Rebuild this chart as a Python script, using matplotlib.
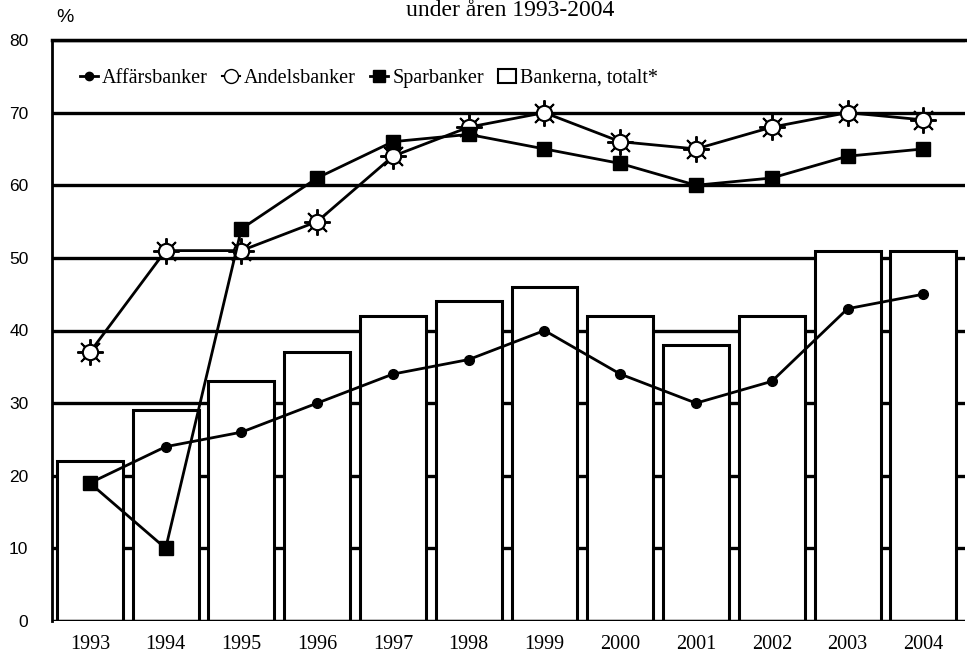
import matplotlib
matplotlib.use("Agg")
import matplotlib.pyplot as plt
from matplotlib.lines import Line2D
from matplotlib.patches import Patch
import numpy as np

years = ["1993", "1994", "1995", "1996", "1997", "1998", "1999", "2000", "2001", "2002", "2003", "2004"]
totalt = [22, 29, 33, 37, 42, 44, 46, 42, 38, 42, 51, 51]
affars = [19, 24, 26, 30, 34, 36, 40, 34, 30, 33, 43, 45]
andels = [37, 51, 51, 55, 64, 68, 70, 66, 65, 68, 70, 69]
spar = [19, 10, 54, 61, 66, 67, 65, 63, 60, 61, 64, 65]
yticks = [0, 10, 20, 30, 40, 50, 60, 70, 80]

serif = "Liberation Serif"
sans = "Liberation Sans"

fig = plt.figure(figsize=(9.67, 6.61), dpi=100)
ax = fig.add_axes([52/967, 40/661, 913/967, 581/661])
x = np.arange(len(years))

for v in yticks[1:]:
    ax.axhline(v, color="black", lw=2.4, zorder=1)

ax.bar(x, totalt, width=0.87, facecolor="white", edgecolor="black", linewidth=2.2, zorder=2)

ax.plot(x, affars, color="black", lw=2, marker="o", ms=7, zorder=4)
ax.plot(x, andels, color="black", lw=2, zorder=4)
ax.plot(x, andels, ls="none", marker=(8, 2, 0), ms=19, mew=1.4, color="black", zorder=5)
ax.plot(x, andels, ls="none", marker="o", ms=11, mfc="white", mec="black", mew=1.5, zorder=6)
ax.plot(x, spar, color="black", lw=2, marker="s", ms=10, zorder=7)

ax.set_xlim(-0.5, len(years) - 0.45)
ax.set_ylim(0, 80)
ax.set_yticks(yticks)
ax.set_yticklabels([str(v) for v in yticks], fontfamily=sans, fontsize=12.5)
ax.set_xticks(x)
ax.set_xticklabels(years, fontfamily=serif, fontsize=14.5)
ax.tick_params(axis="both", length=0)
ax.tick_params(axis="y", pad=17)
ax.tick_params(axis="x", pad=10)
for s in ["right", "bottom"]:
    ax.spines[s].set_visible(False)
ax.spines["left"].set_linewidth(2)
ax.spines["top"].set_linewidth(2.5)
ax.axhline(0, color="black", lw=2.5, zorder=3)

handles = [
    Line2D([], [], color="black", lw=2, marker="o", ms=6),
    Line2D([], [], color="black", lw=1.5, marker="o", ms=10, mfc="white"),
    Line2D([], [], color="black", lw=2, marker="s", ms=9),
    Patch(facecolor="white", edgecolor="black", linewidth=1.5),
]
labels = ["Affärsbanker", "Andelsbanker", "Sparbanker", "Bankerna, totalt*"]
leg = ax.legend(handles, labels, loc="upper left", bbox_to_anchor=(0.015, 0.975), ncol=4,
                frameon=False, prop={"family": serif, "size": 14.5}, handlelength=0.9,
                handletextpad=0.2, columnspacing=0.7, borderaxespad=0.3)
leg.set_zorder(10)

fig.text(65/967, 1 - 18/661, "%", fontfamily=sans, fontsize=14, ha="center", va="center")
fig.text(510/967, 1.0, "under åren 1993-2004", fontfamily=serif, fontsize=17,
         ha="center", va="top")

fig.savefig("out.png", dpi=100)
